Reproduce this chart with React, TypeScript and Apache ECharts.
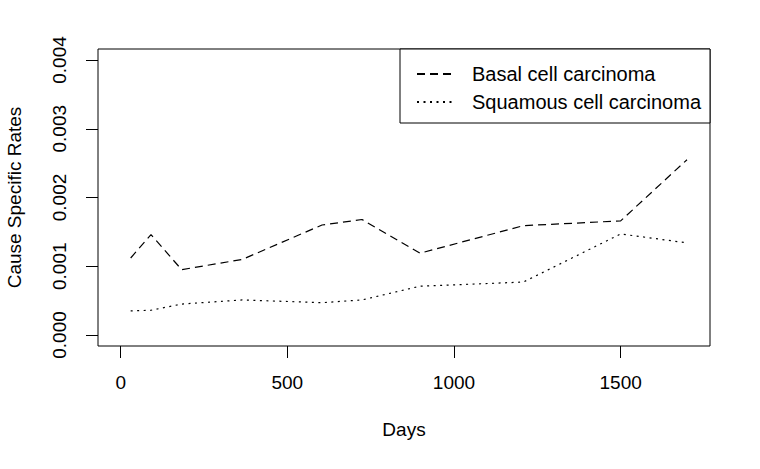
import React, { useEffect, useRef } from "react";
import * as echarts from "echarts";

const days = [30, 91, 183, 365, 604, 724, 898, 1208, 1500, 1699];
const basal = [0.00112, 0.00146, 0.00095, 0.0011, 0.0016, 0.00168, 0.00119, 0.00159, 0.00166, 0.00255];
const squamous = [0.00035, 0.00036, 0.00045, 0.00051, 0.00047, 0.00051, 0.00071, 0.00077, 0.00147, 0.00134];
const seriesNames = ["Basal cell carcinoma", "Squamous cell carcinoma"];
const xTicks = [0, 500, 1000, 1500];
const yTicks = [0, 0.001, 0.002, 0.003, 0.004];
const xTitle = "Days";
const yTitle = "Cause Specific Rates";

const FONT = "'Liberation Sans', Arial, Helvetica, sans-serif";

export default function App() {
  const ref = useRef<HTMLDivElement>(null);
  useEffect(() => {
    const chart = echarts.init(ref.current!, null, { renderer: "svg" });
    const pair = (xs: number[], ys: number[]) => xs.map((x, i) => [x, ys[i]]);
    chart.setOption({
      animation: false,
      backgroundColor: "#ffffff",
      textStyle: { fontFamily: FONT, color: "#000" },
      grid: {
        left: 98,
        top: 49,
        right: 50,
        bottom: 123,
        show: true,
        borderColor: "#000",
        borderWidth: 1,
        backgroundColor: "transparent",
        containLabel: false,
        outerBoundsMode: "none",
      },
      legend: {
        right: 50,
        top: 49,
        orient: "vertical",
        itemWidth: 35,
        itemHeight: 14,
        itemGap: 8,
        padding: [15, 9, 11, 16],
        borderColor: "#000",
        borderWidth: 1,
        borderRadius: 0,
        backgroundColor: "#fff",
        itemStyle: { color: "transparent", borderWidth: 0, opacity: 0 },
        textStyle: { fontSize: 20, color: "#000", fontFamily: FONT, padding: [0, 0, 0, 15] },
        data: seriesNames,
      },
      xAxis: {
        type: "value",
        min: -68,
        max: 1768,
        name: xTitle,
        nameLocation: "middle",
        nameGap: 74,
        nameTextStyle: { fontSize: 19, color: "#000", fontFamily: FONT },
        axisLine: { show: false, onZero: false },
        axisTick: { show: true, length: 12, customValues: xTicks, lineStyle: { color: "#000", width: 1 } },
        axisLabel: {
          customValues: xTicks,
          margin: 27,
          fontSize: 19,
          color: "#000",
          fontFamily: FONT,
          formatter: (v: number) => String(v),
        },
        splitLine: { show: false },
      },
      yAxis: {
        type: "value",
        min: -0.00016,
        max: 0.00416,
        name: yTitle,
        nameLocation: "middle",
        nameGap: 74,
        nameTextStyle: { fontSize: 19, color: "#000", fontFamily: FONT },
        axisLine: { show: false, onZero: false },
        axisTick: { show: true, length: 12, customValues: yTicks, lineStyle: { color: "#000", width: 1 } },
        axisLabel: {
          customValues: yTicks,
          rotate: 90,
          margin: 29,
          fontSize: 19,
          color: "#000",
          fontFamily: FONT,
          formatter: (v: number) => v.toFixed(3),
        },
        splitLine: { show: false },
      },
      series: [
        {
          name: seriesNames[0],
          type: "line",
          data: pair(days, basal),
          symbol: "none",
          lineStyle: { color: "#000", width: 1.2, type: [8, 5] },
          itemStyle: { color: "#000" },
        },
        {
          name: seriesNames[1],
          type: "line",
          data: pair(days, squamous),
          symbol: "none",
          lineStyle: { color: "#000", width: 1.2, type: [2, 4.5] },
          itemStyle: { color: "#000" },
        },
      ],
    });
    return () => chart.dispose();
  }, []);
  return <div ref={ref} style={{ position: "fixed", left: 0, top: 0, width: 760, height: 469 }} />;
}
